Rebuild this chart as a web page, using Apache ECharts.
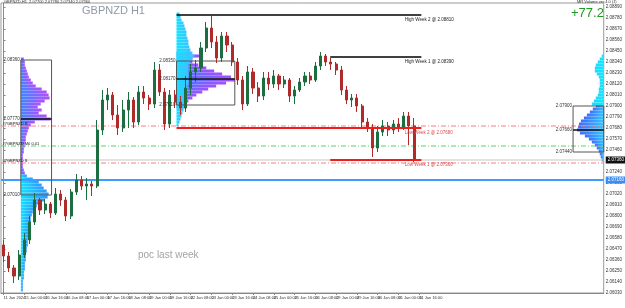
<!DOCTYPE html>
<html>
<head>
<meta charset="utf-8">
<script src="https://cdn.jsdelivr.net/npm/echarts@6/dist/echarts.min.js"></script>
<style>
  html, body { margin: 0; padding: 0; background: #fff; }
  #chart { width: 625px; height: 308px; }
</style>
</head>
<body>
<div id="chart"></div>
<script>
// time labels, one every 4 bars (H4 bars)
const tickLabels = ['11 Jan 2024', '15 Jan 00:00', '15 Jan 16:00', '16 Jan 08:00', '17 Jan 00:00',
  '17 Jan 16:00', '18 Jan 08:00', '19 Jan 00:00', '19 Jan 16:00', '22 Jan 08:00', '23 Jan 00:00',
  '23 Jan 16:00', '24 Jan 08:00', '25 Jan 00:00', '25 Jan 16:00', '26 Jan 08:00', '29 Jan 00:00',
  '29 Jan 16:00', '30 Jan 08:00', '31 Jan 00:00', '31 Jan 16:00'];
const slotCount = 116; // chart is shifted, empty slots on the right

const opens = [2.0651, 2.0640, 2.0628, 2.0620, 2.0641, 2.0656, 2.0674, 2.0696, 2.0686, 2.0692,
  2.0683, 2.0702, 2.0696, 2.0680, 2.0704, 2.0716, 2.0710, 2.0712, 2.0710, 2.0766,
  2.0796, 2.0801, 2.0781, 2.0768, 2.0786, 2.0796, 2.0774, 2.0804, 2.0798, 2.0792,
  2.0826, 2.0804, 2.0772, 2.0801, 2.0794, 2.0788, 2.0808, 2.0824, 2.0828, 2.0848,
  2.0868, 2.0854, 2.0838, 2.0860, 2.0851, 2.0834, 2.0816, 2.0792, 2.0824, 2.0808,
  2.0800, 2.0818, 2.0812, 2.0820, 2.0812, 2.0816, 2.0800, 2.0806, 2.0814, 2.0820,
  2.0816, 2.0830, 2.0840, 2.0834, 2.0832, 2.0826, 2.0806, 2.0796, 2.0798, 2.0790,
  2.0774, 2.0768, 2.0748, 2.0764, 2.0770, 2.0766, 2.0772, 2.0768, 2.0780, 2.0770];
const closes = [2.0640, 2.0628, 2.0620, 2.0641, 2.0656, 2.0674, 2.0696, 2.0686, 2.0692, 2.0683,
  2.0702, 2.0696, 2.0680, 2.0704, 2.0716, 2.0710, 2.0712, 2.0710, 2.0766, 2.0796,
  2.0801, 2.0781, 2.0768, 2.0786, 2.0796, 2.0774, 2.0804, 2.0798, 2.0792, 2.0826,
  2.0804, 2.0772, 2.0801, 2.0794, 2.0788, 2.0808, 2.0824, 2.0828, 2.0848, 2.0868,
  2.0854, 2.0838, 2.0860, 2.0851, 2.0834, 2.0816, 2.0792, 2.0824, 2.0808, 2.0800,
  2.0818, 2.0812, 2.0820, 2.0812, 2.0816, 2.0800, 2.0806, 2.0814, 2.0820, 2.0816,
  2.0830, 2.0840, 2.0834, 2.0832, 2.0826, 2.0806, 2.0796, 2.0798, 2.0790, 2.0774,
  2.0768, 2.0748, 2.0764, 2.0770, 2.0766, 2.0772, 2.0768, 2.0780, 2.0770, 2.0736];
const lows = [2.0634, 2.0624, 2.0613, 2.0616, 2.0638, 2.0652, 2.0671, 2.0681, 2.0682, 2.0678,
  2.0681, 2.0690, 2.0675, 2.0677, 2.0701, 2.0706, 2.0696, 2.0700, 2.0708, 2.0761,
  2.0786, 2.0776, 2.0761, 2.0764, 2.0768, 2.0768, 2.0771, 2.0792, 2.0786, 2.0788,
  2.0800, 2.0766, 2.0768, 2.0788, 2.0781, 2.0784, 2.0801, 2.0814, 2.0824, 2.0844,
  2.0848, 2.0833, 2.0834, 2.0844, 2.0830, 2.0811, 2.0786, 2.0790, 2.0802, 2.0794,
  2.0796, 2.0806, 2.0808, 2.0806, 2.0808, 2.0794, 2.0792, 2.0804, 2.0810, 2.0812,
  2.0814, 2.0826, 2.0830, 2.0826, 2.0821, 2.0801, 2.0792, 2.0789, 2.0784, 2.0768,
  2.0764, 2.0739, 2.0744, 2.0760, 2.0760, 2.0762, 2.0764, 2.0766, 2.0751, 2.0734];
const highs = [2.0656, 2.0644, 2.0631, 2.0646, 2.0663, 2.0680, 2.0703, 2.0698, 2.0697, 2.0694,
  2.0708, 2.0706, 2.0699, 2.0707, 2.0722, 2.0720, 2.0718, 2.0715, 2.0776, 2.0806,
  2.0808, 2.0804, 2.0791, 2.0796, 2.0804, 2.0799, 2.0810, 2.0810, 2.0801, 2.0834,
  2.0832, 2.0808, 2.0806, 2.0806, 2.0800, 2.0820, 2.0832, 2.0836, 2.0854, 2.0874,
  2.0880, 2.0860, 2.0864, 2.0864, 2.0854, 2.0838, 2.0820, 2.0830, 2.0828, 2.0814,
  2.0824, 2.0824, 2.0826, 2.0822, 2.0820, 2.0818, 2.0810, 2.0818, 2.0824, 2.0824,
  2.0834, 2.0844, 2.0842, 2.0838, 2.0834, 2.0830, 2.0810, 2.0802, 2.0802, 2.0792,
  2.0778, 2.0772, 2.0770, 2.0776, 2.0774, 2.0776, 2.0778, 2.0784, 2.0784, 2.0778];

// volume profiles: volume per price level, from the top level down
const STEP = 0.0003;
const volA1 = [3, 4, 4, 5, 6, 7, 8, 10, 12, 15, 21, 26, 28, 29, 24, 20, 17, 21, 18, 26, 30, 14, 10, 8, 7, 6, 5, 5, 4, 4, 3, 3, 2, 2, 2, 2, 2, 3, 4];
const volA2 = [6, 12, 18, 21, 23, 26, 28, 27, 24, 20, 16, 13, 12, 11, 10, 10, 9, 9, 8, 8, 8, 7, 7, 7, 6, 6, 5, 5, 5, 4, 4, 4, 3, 3, 3, 2, 2, 2, 2];
const volB1 = [3, 4, 5, 7, 8, 9, 10, 10, 11, 12, 12, 13, 14, 16, 18, 16, 14, 12, 12, 12, 12, 12, 12, 12, 11, 11, 10, 10, 10, 10, 9, 8, 7, 6, 5, 4, 3, 2];
const volB2 = [14, 24, 16, 16, 22, 30, 38, 46, 55, 59, 50, 40, 32, 26, 20, 16, 12, 10, 8];
const volC1 = [8, 11, 14, 17, 20, 23, 25, 26, 27, 24, 19, 15, 12, 9, 7, 5, 4, 3, 2];
const volC2 = [2, 4, 6, 8, 9, 9, 7, 5, 4, 4, 4, 5, 5, 6, 8, 10, 12];
const topA1 = 2.0837, topA2 = 2.0720, topB1 = 2.0882, topB2 = 2.0843, topC1 = 2.0790, topC2 = 2.0840;
const weekStartA = 3.32, weekStartB = 33.28, lastSlot = 115.5;

// value area boxes
const boxStart = [3.32, 33.28, 109.6];
const boxEnd = [9.23, 44.5, 115.5];
const boxTop = [2.0836, 2.0835, 2.0790];
const boxBottom = [2.0701, 2.0791, 2.0744];
const boxPoc = [2.0777, 2.0817, 2.0766];

// weekly high / low lines
const segNames = ['High Week 2', 'High Week 1', 'Low Week 2', 'Low Week 1'];
const segPrices = [2.0881, 2.0839, 2.0768, 2.0736];
const segStart = [33.28, 62.86, 33.28, 62.86];
const segEnd = [80.4, 80.4, 80.4, 80.4];
const segLabelAt = 77.2;

// full width levels
const levelNames = ['#7GBPNZD R', '#7GBPNZD M0 0.01', '#7GBPNZD S'];
const levelPrices = [2.0770, 2.0750, 2.0733];
const levelBlue = 2.0716;
const lastPrice = closes[closes.length - 1];

const FONT = 'Liberation Sans, Arial, sans-serif';
const VOL_SCALE = 1 / 5.24;
const dashDot = [5, 2, 1, 2];
const levelColors = ['#ff7a7a', '#5fd35f', '#ff7a7a'];

const cats = [];
for (let i = 0; i < slotCount; i++) {
  cats.push(i % 4 === 0 && i / 4 < tickLabels.length ? tickLabels[i / 4] : '');
}
const ohlc = opens.map((o, i) => [o, closes[i], lows[i], highs[i]]);

function profileSeries(anchor, top, vols, dir, c0, c1) {
  return {
    type: 'custom',
    xAxisIndex: 1,
    z: 1,
    silent: true,
    data: vols.map((v, k) => [anchor, +(top - k * STEP).toFixed(5), v]),
    encode: { x: 0, y: 1 },
    renderItem: function (params, api) {
      const p = api.coord([api.value(0), api.value(1)]);
      const w = api.size([api.value(2) * VOL_SCALE, 0])[0];
      const h = api.size([0, STEP])[1];
      return {
        type: 'rect',
        shape: { x: dir > 0 ? p[0] : p[0] - w, y: p[1] - h / 2, width: w, height: h },
        style: { fill: new echarts.graphic.LinearGradient(0, 0, 1, 0, [
          { offset: 0, color: c0 }, { offset: 1, color: c1 }]) }
      };
    }
  };
}

function txt(x, y, text, color, align, vAlign, size) {
  return {
    type: 'text', x: x, y: y,
    style: { text: text, fill: color, font: (size || 4.5) + 'px ' + FONT,
      align: align, textAlign: align, verticalAlign: vAlign, textVerticalAlign: vAlign }
  };
}

function hLine(value, color, type, width, z) {
  return {
    type: 'line', xAxisIndex: 1, z: z, silent: true, symbol: 'none',
    data: [[-0.5, value], [slotCount - 0.5, value]],
    lineStyle: { color: color, type: type, width: width }
  };
}

// price tag drawn on the right axis
function axisTag(value, bg) {
  return {
    type: 'custom', xAxisIndex: 1, z: 10, silent: true,
    data: [[slotCount - 0.5, value]],
    encode: { x: 0, y: 1 },
    renderItem: function (params, api) {
      const p = api.coord([api.value(0), api.value(1)]);
      return {
        type: 'text', x: p[0] + 2, y: p[1],
        style: { text: api.value(1).toFixed(5), fill: '#fff', font: '4.5px ' + FONT,
          backgroundColor: bg, padding: [1, 2], verticalAlign: 'middle', textVerticalAlign: 'middle' }
      };
    }
  };
}

let dom = document.getElementById('chart');
let myChart = echarts.init(dom, null, { renderer: 'canvas' });

const series = [
  profileSeries(weekStartA, topA1, volA1, 1, '#3f86ff', '#b54dff'),
  profileSeries(weekStartA, topA2, volA2, 1, '#12e2ff', '#3196ff'),
  profileSeries(weekStartB, topB2, volB2, 1, '#3a7bff', '#a84dff'),
  profileSeries(weekStartB, topB1, volB1, 1, '#10e4ff', '#39c4ff'),
  profileSeries(lastSlot, topC1, volC1, -1, '#3f6cff', '#33c6ff'),
  profileSeries(lastSlot, topC2, volC2, -1, '#22d8ff', '#10eaff')
];

levelPrices.forEach(function (p, k) {
  series.push(hLine(p, levelColors[k], dashDot, 1, 2));
});
series.push(hLine(lastPrice, '#c4c4c4', 'solid', 1, 2));
series.push(hLine(levelBlue, '#3d9cff', 'solid', 2, 2));

// labels at the left end of the dash-dot levels
series.push({
  type: 'custom', xAxisIndex: 1, z: 6, silent: true,
  data: levelPrices.map((p, k) => [-0.2, p, k]),
  encode: { x: 0, y: 1 },
  renderItem: function (params, api) {
    const p = api.coord([api.value(0), api.value(1)]);
    return txt(p[0], p[1], levelNames[api.value(2)], '#111', 'left', 'bottom', 4);
  }
});

series.push({
  type: 'candlestick',
  xAxisIndex: 0,
  z: 3,
  barMaxWidth: 3,
  data: ohlc,
  itemStyle: { color: '#1b6e3f', color0: '#b02a2a', borderColor: '#1b6e3f', borderColor0: '#b02a2a', borderWidth: 1 }
});

series.push({
  type: 'custom',
  xAxisIndex: 1,
  z: 4,
  silent: true,
  data: boxStart.map((s, k) => [s, boxEnd[k], boxTop[k], boxBottom[k], boxPoc[k]]),
  encode: { x: [0, 1], y: [2, 3, 4] },
  renderItem: function (params, api) {
    const a = api.coord([api.value(0), api.value(2)]);
    const b = api.coord([api.value(1), api.value(3)]);
    const c = api.coord([api.value(0), api.value(4)]);
    const d = api.coord([api.value(1), api.value(4)]);
    return {
      type: 'group',
      children: [
        { type: 'rect', shape: { x: a[0], y: a[1], width: b[0] - a[0], height: b[1] - a[1] },
          style: { fill: 'none', stroke: '#555', lineWidth: 1 } },
        { type: 'line', shape: { x1: c[0], y1: c[1], x2: d[0], y2: d[1] },
          style: { stroke: '#111', lineWidth: 1.5 } },
        txt(a[0] - 1, a[1], api.value(2).toFixed(5), '#333', 'right', 'middle'),
        txt(a[0] - 1, c[1], api.value(4).toFixed(5), '#333', 'right', 'middle'),
        txt(a[0] - 1, b[1], api.value(3).toFixed(5), '#333', 'right', 'middle')
      ]
    };
  }
});

segPrices.forEach(function (p, k) {
  const low = segNames[k].indexOf('Low') === 0;
  series.push({
    type: 'line',
    xAxisIndex: 1,
    z: 5,
    silent: true,
    symbol: 'none',
    data: [[segStart[k], p], [segEnd[k], p]],
    lineStyle: { color: low ? '#e8201f' : '#000', width: low ? 2 : 1.5 }
  });
});

series.push({
  type: 'custom',
  xAxisIndex: 1,
  z: 6,
  silent: true,
  data: segPrices.map((p, k) => [segLabelAt, p, k]),
  encode: { x: 0, y: 1 },
  renderItem: function (params, api) {
    const k = api.value(2);
    const p = api.coord([api.value(0), api.value(1)]);
    const low = segNames[k].indexOf('Low') === 0;
    return txt(p[0], p[1] + 2, segNames[k] + ' @ ' + api.value(1).toFixed(5), low ? '#e04a4a' : '#222', 'left', 'top');
  }
});

series.push(axisTag(lastPrice, '#111'));
series.push(axisTag(levelBlue, '#3d8cf0'));

const option = {
  animation: false,
  backgroundColor: '#fff',
  grid: { left: 1, right: 16, top: 3, bottom: 15, show: true, borderColor: '#999', borderWidth: 1 },
  xAxis: [
    {
      type: 'category',
      data: cats,
      boundaryGap: true,
      axisLine: { lineStyle: { color: '#888' } },
      axisTick: { show: true, length: 2, alignWithLabel: true, interval: function (i) { return i % 4 === 0 && i <= 80; }, lineStyle: { color: '#888' } },
      axisLabel: { interval: 0, align: 'left', fontSize: 4, color: '#333', margin: 3, fontFamily: FONT },
      splitLine: { show: false }
    },
    { type: 'value', min: -0.5, max: slotCount - 0.5, show: false }
  ],
  yAxis: {
    type: 'value',
    position: 'right',
    min: 2.0603,
    max: 2.0893,
    interval: 0.0011,
    axisLine: { show: true, lineStyle: { color: '#888' } },
    axisTick: { show: true, length: 2, lineStyle: { color: '#888' } },
    axisLabel: { fontSize: 4.5, color: '#333', margin: 2, fontFamily: FONT, formatter: function (v) { return v.toFixed(5); } },
    splitLine: { show: false }
  },
  graphic: [
    { type: 'text', left: 4, top: 0, style: { text: 'GBPNZD,H1  ' + opens[79].toFixed(5) + ' ' + highs[79].toFixed(5) + ' ' + lows[79].toFixed(5) + ' ' + closes[79].toFixed(5), fill: '#333', font: '4px ' + FONT } },
    { type: 'text', left: 82, top: 5, style: { text: 'GBPNZD H1', fill: '#8e9aa8', font: '11px ' + FONT } },
    { type: 'text', left: 577, top: 0, style: { text: 'MR Volume ver.4.0 (J)', fill: '#333', font: '4px ' + FONT } },
    { type: 'text', left: 571, top: 7, style: { text: '+77.2', fill: '#1f9a1f', font: '13px ' + FONT } },
    { type: 'text', left: 138, top: 250, style: { text: 'poc last week', fill: '#a3a3a3', font: '10px ' + FONT } }
  ],
  series: series
};

myChart.setOption(option);

window.addEventListener('resize', function () {
  if (myChart) {
    myChart.resize();
  }
});
</script>
</body>
</html>
